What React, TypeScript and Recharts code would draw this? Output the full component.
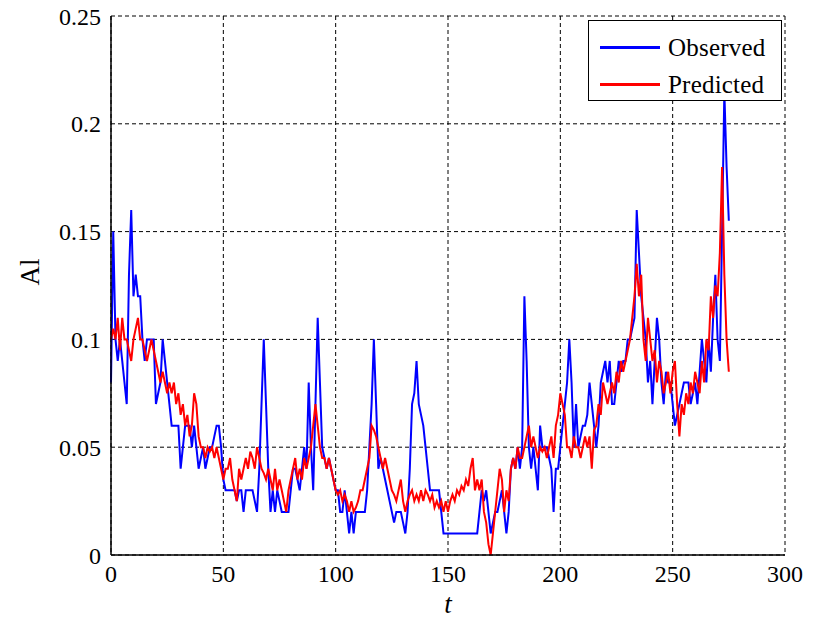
import React from 'react';
import { LineChart, Line, XAxis, YAxis, CartesianGrid } from 'recharts';

const observed: number[] = [
  0.08, 0.15, 0.10, 0.09, 0.10, 0.09, 0.08, 0.07, 0.13, 0.16,
  0.12, 0.13, 0.12, 0.12, 0.10, 0.09, 0.10, 0.10, 0.10, 0.10,
  0.07, 0.075, 0.08, 0.10, 0.09, 0.08, 0.07, 0.06, 0.06, 0.06,
  0.06, 0.04, 0.05, 0.06, 0.06, 0.06, 0.05, 0.06, 0.05, 0.04,
  0.045, 0.05, 0.04, 0.045, 0.05, 0.05, 0.055, 0.06, 0.06, 0.05,
  0.035, 0.03, 0.03, 0.03, 0.03, 0.03, 0.025, 0.03, 0.03, 0.02,
  0.03, 0.03, 0.03, 0.03, 0.025, 0.02, 0.04, 0.07, 0.10, 0.07,
  0.04, 0.02, 0.03, 0.02, 0.03, 0.025, 0.02, 0.02, 0.02, 0.02,
  0.03, 0.04, 0.04, 0.035, 0.03, 0.04, 0.05, 0.04, 0.08, 0.05,
  0.03, 0.07, 0.11, 0.08, 0.05, 0.045, 0.04, 0.045, 0.04, 0.035,
  0.03, 0.03, 0.02, 0.02, 0.03, 0.02, 0.01, 0.02, 0.01, 0.02,
  0.02, 0.02, 0.02, 0.02, 0.03, 0.05, 0.07, 0.10, 0.07, 0.04,
  0.045, 0.04, 0.035, 0.03, 0.025, 0.02, 0.015, 0.02, 0.02, 0.02,
  0.015, 0.01, 0.02, 0.04, 0.07, 0.075, 0.09, 0.07, 0.065, 0.06,
  0.05, 0.04, 0.03, 0.03, 0.03, 0.03, 0.03, 0.02, 0.01, 0.01,
  0.01, 0.01, 0.01, 0.01, 0.01, 0.01, 0.01, 0.01, 0.01, 0.01,
  0.01, 0.01, 0.01, 0.01, 0.02, 0.03, 0.025, 0.03, 0.02, 0.01,
  0.015, 0.02, 0.02, 0.025, 0.03, 0.02, 0.01, 0.02, 0.04, 0.045,
  0.04, 0.05, 0.04, 0.05, 0.12, 0.09, 0.05, 0.04, 0.05, 0.04,
  0.03, 0.06, 0.05, 0.05, 0.05, 0.045, 0.04, 0.02, 0.04, 0.04,
  0.05, 0.06, 0.07, 0.08, 0.10, 0.08, 0.05, 0.07, 0.05, 0.055,
  0.06, 0.06, 0.065, 0.08, 0.07, 0.06, 0.05, 0.06, 0.08, 0.085,
  0.09, 0.08, 0.09, 0.07, 0.07, 0.08, 0.09, 0.085, 0.09, 0.09,
  0.10, 0.10, 0.105, 0.11, 0.16, 0.14, 0.12, 0.11, 0.10, 0.08,
  0.09, 0.07, 0.09, 0.11, 0.10, 0.08, 0.07, 0.085, 0.08, 0.08,
  0.07, 0.06, 0.065, 0.07, 0.075, 0.08, 0.08, 0.08, 0.07, 0.075,
  0.08, 0.07, 0.085, 0.10, 0.09, 0.08, 0.10, 0.085, 0.11, 0.13,
  0.10, 0.09, 0.15, 0.215, 0.18, 0.155,
];

const predicted: number[] = [
  0.10, 0.105, 0.10, 0.11, 0.095, 0.11, 0.10, 0.10, 0.095, 0.09,
  0.10, 0.105, 0.11, 0.10, 0.10, 0.095, 0.09, 0.095, 0.10, 0.095,
  0.09, 0.085, 0.08, 0.085, 0.08, 0.075, 0.08, 0.075, 0.08, 0.07,
  0.075, 0.065, 0.07, 0.06, 0.065, 0.055, 0.06, 0.075, 0.07, 0.055,
  0.05, 0.05, 0.045, 0.05, 0.048, 0.05, 0.045, 0.05, 0.045, 0.04,
  0.035, 0.04, 0.04, 0.045, 0.035, 0.03, 0.025, 0.04, 0.035, 0.04,
  0.045, 0.04, 0.048, 0.045, 0.04, 0.05, 0.045, 0.04, 0.038, 0.035,
  0.04, 0.035, 0.03, 0.04, 0.03, 0.035, 0.03, 0.025, 0.02, 0.03,
  0.035, 0.04, 0.045, 0.035, 0.04, 0.035, 0.045, 0.04, 0.045, 0.05,
  0.06, 0.07, 0.06, 0.05, 0.045, 0.045, 0.04, 0.045, 0.04, 0.035,
  0.03, 0.028, 0.03, 0.025, 0.028, 0.025, 0.02, 0.025, 0.02, 0.022,
  0.025, 0.03, 0.03, 0.035, 0.04, 0.045, 0.06, 0.058, 0.055, 0.05,
  0.045, 0.04, 0.045, 0.04, 0.035, 0.03, 0.028, 0.025, 0.03, 0.035,
  0.025, 0.02, 0.025, 0.028, 0.03, 0.025, 0.028, 0.025, 0.03, 0.025,
  0.03, 0.028, 0.025, 0.028, 0.022, 0.025, 0.022, 0.025, 0.02, 0.025,
  0.02, 0.025, 0.028, 0.025, 0.03, 0.028, 0.032, 0.03, 0.035, 0.032,
  0.04, 0.045, 0.03, 0.035, 0.03, 0.035, 0.02, 0.015, 0.005, 0.0,
  0.01, 0.02, 0.03, 0.04, 0.035, 0.02, 0.03, 0.025, 0.04, 0.045,
  0.04, 0.05, 0.045, 0.045, 0.05, 0.055, 0.06, 0.05, 0.055, 0.05,
  0.045, 0.05, 0.048, 0.05, 0.045, 0.05, 0.055, 0.045, 0.06, 0.065,
  0.075, 0.07, 0.065, 0.05, 0.05, 0.045, 0.055, 0.05, 0.05, 0.045,
  0.05, 0.055, 0.05, 0.055, 0.04, 0.058, 0.06, 0.07, 0.065, 0.08,
  0.075, 0.07, 0.075, 0.08, 0.075, 0.085, 0.08, 0.09, 0.085, 0.09,
  0.095, 0.10, 0.11, 0.12, 0.135, 0.12, 0.13, 0.10, 0.09, 0.11,
  0.10, 0.09, 0.095, 0.08, 0.09, 0.085, 0.075, 0.08, 0.085, 0.075,
  0.085, 0.09, 0.07, 0.055, 0.07, 0.065, 0.075, 0.07, 0.08, 0.075,
  0.085, 0.08, 0.075, 0.09, 0.08, 0.10, 0.095, 0.12, 0.11, 0.125,
  0.12, 0.14, 0.18, 0.13, 0.10, 0.085,
];

const xTicks: number[] = [0, 50, 100, 150, 200, 250, 300];
const yTicks: number[] = [0, 0.05, 0.1, 0.15, 0.2, 0.25];
const yTickLabels: string[] = ['0', '0.05', '0.1', '0.15', '0.2', '0.25'];
const seriesNames: string[] = ['Observed', 'Predicted'];
const seriesColors: string[] = ['#0000ff', '#ff0000'];

const data = observed.map((o, i) => ({ t: i, obs: o, pred: predicted[i] }));

const FONT = '"Liberation Serif", "Times New Roman", serif';

const LegendBox = () => (
  <div
    style={{
      position: 'absolute',
      left: 588,
      top: 20,
      border: '1.5px solid #000',
      background: '#fff',
      width: 194,
      height: 81,
      boxSizing: 'border-box',
      fontFamily: FONT,
      fontSize: 25,
      color: '#000',
      padding: '8px 0 0 11px',
    }}
  >
    {seriesNames.map((n, i) => (
      <div key={n} style={{ display: 'flex', alignItems: 'center', height: 37, letterSpacing: 0.2 }}>
        <div style={{ width: 60, height: 3, background: seriesColors[i], marginRight: 8 }} />
        <span>{n}</span>
      </div>
    ))}
  </div>
);

export default function App() {
  return (
    <div style={{ position: 'absolute', left: 0, top: 0, width: 824, height: 624, background: '#fff' }}>
      <LineChart
        width={824}
        height={624}
        data={data}
        margin={{ top: 16, right: 39, bottom: 39, left: 51 }}
      >
        <CartesianGrid stroke="#000" strokeDasharray="4 3" strokeWidth={1} />
        <XAxis
          dataKey="t"
          type="number"
          domain={[0, 300]}
          ticks={xTicks}
          height={30}
          axisLine={{ stroke: '#000', strokeWidth: 1.5 }}
          tickLine={false}
          tick={{ fill: '#000', fontFamily: FONT, fontSize: 24 }}
          tickMargin={4}
          label={{ value: 't', position: 'bottom', offset: 9, fill: '#000', fontFamily: FONT, fontSize: 27, fontStyle: 'italic' }}
        />
        <XAxis xAxisId="top" orientation="top" dataKey="t" type="number" domain={[0, 300]} ticks={xTicks} tick={false} tickLine={false} axisLine={{ stroke: '#000', strokeWidth: 1.5 }} height={0} />
        <YAxis
          type="number"
          domain={[0, 0.25]}
          ticks={yTicks}
          width={60}
          axisLine={{ stroke: '#000', strokeWidth: 1.5 }}
          tickLine={false}
          tickFormatter={(v: number) => yTickLabels[yTicks.indexOf(v)] ?? String(v)}
          tick={{ fill: '#000', fontFamily: FONT, fontSize: 24 }}
          tickMargin={4}
          label={{ value: 'Al', angle: -90, position: 'insideLeft', offset: -22, fill: '#000', fontFamily: FONT, fontSize: 27 }}
        />
        <YAxis yAxisId="right" orientation="right" type="number" domain={[0, 0.25]} ticks={yTicks} tick={false} tickLine={false} axisLine={{ stroke: '#000', strokeWidth: 1.5 }} width={0} />
        <Line type="linear" dataKey="obs" stroke={seriesColors[0]} strokeWidth={2} dot={false} isAnimationActive={false} />
        <Line type="linear" dataKey="pred" stroke={seriesColors[1]} strokeWidth={2} dot={false} isAnimationActive={false} />
      </LineChart>
      <LegendBox />
    </div>
  );
}
